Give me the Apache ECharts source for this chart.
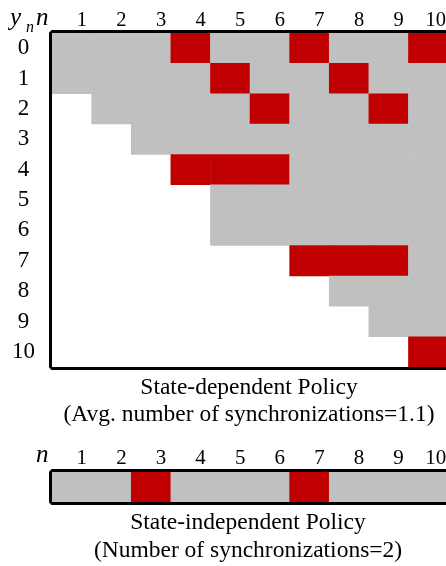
<!DOCTYPE html>
<html>
<head>
<meta charset="utf-8">
<script src="https://cdn.jsdelivr.net/npm/echarts@6/dist/echarts.min.js"></script>
<style>
  html, body { margin: 0; padding: 0; background: #fff; }
  #chart { width: 446px; height: 566px; }
</style>
</head>
<body>
<div id="chart"></div>
<script>
// Stages n and states y_n
const stages = ['1', '2', '3', '4', '5', '6', '7', '8', '9', '10'];
const states = ['0', '1', '2', '3', '4', '5', '6', '7', '8', '9', '10'];

// First stage at which each state y_n appears (cells before it stay blank)
const firstStage = [1, 1, 2, 3, 4, 5, 5, 7, 8, 9, 10];

// Synchronization decisions of the state-dependent policy, as [n, y_n]
const syncDependent = [
  [4, 0], [7, 0], [10, 0],
  [5, 1], [8, 1],
  [6, 2], [9, 2],
  [4, 4], [5, 4], [6, 4],
  [7, 7], [8, 7], [9, 7],
  [10, 10]
];

// Stages where the state-independent policy synchronizes
const syncIndependent = [3, 7];

const GRAY = '#c0c0c0';
const RED = '#c00000';
const SERIF = '"Liberation Serif", "DejaVu Serif", serif';
const FRAME = { show: true, lineStyle: { color: '#000', width: 3 } };

// Heatmap cells: value 1 = synchronize, 0 = no synchronization
const dependentCells = [];
states.forEach((s, y) => {
  for (let n = firstStage[y]; n <= stages.length; n++) {
    const sync = syncDependent.some(p => p[0] === n && p[1] === y);
    dependentCells.push([n - 1, y, sync ? 1 : 0]);
  }
});
const independentCells = stages.map((s, i) =>
  [i, 0, syncIndependent.includes(i + 1) ? 1 : 0]);

// Stage labels sit right of the cell centre; the two-digit one a bit less so it stays inside
const stageData = stages.map(s => ({
  value: s,
  textStyle: { padding: [0, 0, 0, s.length > 1 ? 15 : 20] }
}));

const chart = echarts.init(document.getElementById('chart'), null, { renderer: 'canvas' });

// Top stage axis with labels, bottom one only draws the frame line
const stageAxis = (gridIndex, fontSize, margin) => ({
  type: 'category',
  gridIndex,
  data: stageData,
  position: 'top',
  offset: 1.5,
  z: 5,
  axisLine: FRAME,
  axisTick: { show: false },
  splitLine: { show: false },
  axisLabel: {
    color: '#000',
    fontFamily: SERIF,
    fontSize,
    margin
  }
});
const frameAxis = (gridIndex) => ({
  type: 'category',
  gridIndex,
  data: stages,
  position: 'bottom',
  offset: 1.5,
  z: 5,
  axisLine: FRAME,
  axisTick: { show: false },
  splitLine: { show: false },
  axisLabel: { show: false }
});

chart.setOption({
  animation: false,
  backgroundColor: '#fff',
  grid: [
    { left: 52, top: 33, width: 396, height: 334, outerBoundsMode: 'none', containLabel: false },
    { left: 52, top: 472, width: 396, height: 30, outerBoundsMode: 'none', containLabel: false }
  ],
  xAxis: [stageAxis(0, 20.5, 0), frameAxis(0), stageAxis(1, 21, 2), frameAxis(1)],
  yAxis: [
    {
      type: 'category',
      gridIndex: 0,
      data: states,
      inverse: true,
      offset: 1.5,
      z: 5,
      axisLine: FRAME,
      axisTick: { show: false },
      splitLine: { show: false },
      axisLabel: {
        color: '#000',
        fontFamily: SERIF,
        fontSize: 23,
        align: 'center',
        margin: 27,
        padding: [3, 0, 0, 0]
      }
    },
    {
      type: 'category',
      gridIndex: 1,
      data: ['0'],
      offset: 1.5,
      z: 5,
      axisLine: FRAME,
      axisTick: { show: false },
      splitLine: { show: false },
      axisLabel: { show: false }
    }
  ],
  visualMap: {
    type: 'piecewise',
    show: false,
    dimension: 2,
    seriesIndex: [0, 1],
    pieces: [
      { value: 0, color: GRAY },
      { value: 1, color: RED }
    ]
  },
  series: [
    {
      type: 'heatmap',
      xAxisIndex: 0,
      yAxisIndex: 0,
      data: dependentCells,
      itemStyle: { borderWidth: 0 },
      emphasis: { disabled: true }
    },
    {
      type: 'heatmap',
      xAxisIndex: 2,
      yAxisIndex: 1,
      data: independentCells,
      itemStyle: { borderWidth: 0 },
      emphasis: { disabled: true }
    }
  ],
  graphic: [
    { type: 'text', left: 10, top: 6,
      style: { text: 'y', font: 'italic 25px ' + SERIF, fill: '#000' } },
    { type: 'text', left: 26, top: 20,
      style: { text: 'n', font: 'italic 16px ' + SERIF, fill: '#000' } },
    { type: 'text', left: 36, top: 6,
      style: { text: 'n', font: 'italic 25px ' + SERIF, fill: '#000' } },
    { type: 'text', left: 36, top: 443,
      style: { text: 'n', font: 'italic 25px ' + SERIF, fill: '#000' } },
    { type: 'text', x: 249, y: 388,
      style: { text: 'State-dependent Policy', font: '23.5px ' + SERIF, fill: '#000',
               align: 'center', verticalAlign: 'middle' } },
    { type: 'text', x: 249, y: 415,
      style: { text: '(Avg. number of synchronizations=1.1)', font: '23.5px ' + SERIF, fill: '#000',
               align: 'center', verticalAlign: 'middle' } },
    { type: 'text', x: 248, y: 523,
      style: { text: 'State-independent Policy', font: '23.5px ' + SERIF, fill: '#000',
               align: 'center', verticalAlign: 'middle' } },
    { type: 'text', x: 248, y: 551,
      style: { text: '(Number of synchronizations=2)', font: '23.5px ' + SERIF, fill: '#000',
               align: 'center', verticalAlign: 'middle' } }
  ]
});
</script>
</body>
</html>
